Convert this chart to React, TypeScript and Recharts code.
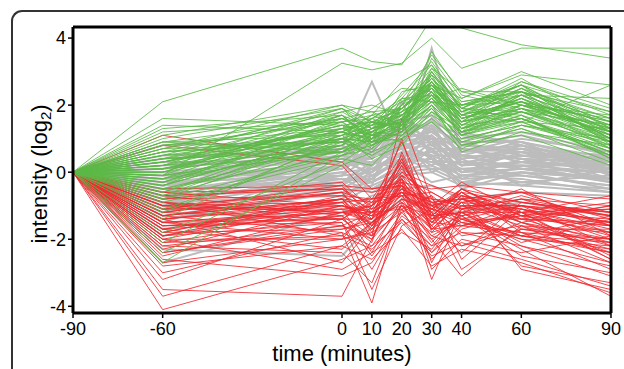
import React from "react"
import { LineChart, Line, XAxis, YAxis, Label, ReferenceLine } from "recharts"

// sampling times (minutes)
const times = [-90, -60, 0, 10, 20, 30, 40, 60, 90]
const xTicks = [-90, -60, 0, 10, 20, 30, 40, 60, 90]
const yTicks = [-4, -2, 0, 2, 4]

// up-regulated profiles (log2 intensity at each time)
const greenSeries = [
  [0, 2.1, 3.7, 3.3, 3.2, 4.6, 4.3, 3.8, 3.4],
  [0, -0.1, 3.25, 3.05, 3.25, 4.0, 3.1, 3.7, 3.7],
  [0, 1.6, 1.4, 1.2, 1.6, 2.9, 2.0, 2.4, 1.5],
  [0, 1.4, 1.2, 1.5, 1.2, 3.4, 2.2, 2.9, 2.6],
  [0, 1.3, 1.7, 1.0, 2.4, 2.6, 1.8, 2.5, 1.2],
  [0, 1.2, 1.5, 1.6, 1.8, 3.0, 1.6, 2.2, 1.0],
  [0, 1.0, 1.9, 1.3, 1.5, 2.4, 1.4, 2.0, 1.3],
  [0, 0.9, 1.1, 1.4, 2.0, 2.8, 1.9, 2.6, 0.8],
  [0, 0.8, 1.3, 0.9, 1.7, 2.2, 1.5, 1.8, 0.9],
  [0, 0.7, 1.6, 1.8, 1.4, 3.1, 2.4, 2.0, 1.7],
  [0, 0.6, 0.9, 1.2, 1.1, 2.0, 1.2, 1.6, 0.6],
  [0, 0.5, 1.2, 1.0, 1.9, 2.5, 1.7, 2.3, 1.4],
  [0, 0.4, 0.8, 1.5, 1.3, 2.7, 1.3, 1.9, 0.7],
  [0, 0.3, 1.4, 0.7, 2.2, 2.3, 2.0, 2.1, 1.1],
  [0, 0.2, 0.7, 1.1, 0.9, 1.8, 1.1, 1.5, 0.5],
  [0, 0.1, 1.0, 1.3, 1.6, 2.6, 1.5, 2.7, 1.9],
  [0, 0.0, 1.5, 0.8, 1.2, 2.1, 1.8, 1.7, 0.4],
  [0, -0.1, 0.6, 1.0, 1.5, 1.9, 1.0, 1.4, 1.0],
  [0, -0.2, 1.2, 1.7, 2.7, 3.2, 2.1, 2.4, 1.6],
  [0, -0.3, 0.9, 0.5, 1.0, 1.6, 0.9, 1.3, 0.3],
  [0, -0.4, 1.1, 1.4, 1.8, 2.4, 1.6, 2.0, 1.2],
  [0, -0.5, 0.5, 0.8, 1.3, 2.0, 0.6, 1.2, 0.8],
  [0, -0.6, 1.3, 1.1, 1.4, 2.9, 1.4, 2.2, 1.3],
  [0, -0.7, 0.8, 1.6, 2.1, 2.5, 1.9, 1.6, 0.6],
  [0, -0.9, 0.4, 0.2, 1.1, 1.7, 1.2, 1.5, 2.6],
  [0, -1.1, 0.7, 1.2, 1.6, 2.2, 1.3, 1.8, 1.0],
  [0, -1.4, 1.0, 0.6, 1.5, 3.6, 2.3, 1.9, 1.4],
  [0, -1.8, 0.3, 0.9, 1.2, 1.9, 0.8, 1.1, 0.2],
  [0, -2.1, 0.6, 1.3, 1.7, 2.3, 1.5, 2.5, 1.1],
  [0, -2.4, 0.2, 0.6, 1.0, 1.5, 0.7, 1.4, 0.9],
  [0, -2.7, 0.5, 1.0, 1.9, 2.7, 1.7, 2.1, 1.5],
  [0, 0.6, 1.8, 2.0, 1.7, 2.6, 2.2, 3.0, 2.0],
  [0, 0.3, 1.6, 1.4, 2.3, 3.3, 2.0, 2.6, 1.8],
  [0, 1.1, 2.0, 1.5, 1.9, 2.8, 1.8, 2.3, 2.2],
  [0, 0.9, 0.6, 1.1, 1.4, 2.1, 1.1, 1.7, 0.4],
  [0, -0.2, 1.7, 0.9, 1.3, 3.0, 1.9, 2.8, 1.3],
  [0, 0.4, 1.3, 1.9, 2.5, 2.4, 1.6, 2.1, 0.7],
  [0, -0.8, 1.1, 0.4, 0.8, 1.8, 1.3, 1.6, 0.5],
  [0, 0.7, 0.9, 1.3, 1.5, 2.2, 2.5, 2.0, 1.6],
  [0, 0.1, 1.4, 1.1, 2.0, 3.5, 2.4, 2.4, 1.0],
  [0, 0.5, 1.9, 1.1, 1.8, 2.4, 1.3, 2.3, 1.0],
  [0, 0.2, 1.0, 1.6, 1.2, 2.6, 1.7, 1.5, 1.3],
  [0, -0.3, 1.3, 1.5, 1.9, 2.8, 1.6, 2.2, 1.2],
  [0, 0.6, 1.0, 0.9, 1.3, 2.3, 1.2, 1.9, 0.9],
  [0, 0.0, 1.7, 0.9, 2.0, 2.5, 1.2, 2.4, 0.9],
  [0, -0.5, 0.8, 1.2, 1.7, 2.7, 1.5, 2.1, 1.1],
  [0, 0.3, 1.1, 1.7, 1.4, 3.0, 1.9, 1.8, 1.4],
  [0, 0.8, 1.5, 1.0, 1.4, 2.2, 1.3, 1.8, 0.8],
  [0, -0.1, 1.8, 1.3, 2.2, 2.1, 2.0, 2.6, 1.2],
  [0, 0.4, 0.6, 0.8, 1.2, 2.0, 0.9, 1.5, 0.6],
  [0, 0.1, 1.2, 1.6, 2.2, 3.2, 1.8, 2.6, 1.3],
  [0, -0.6, 1.0, 0.9, 1.0, 1.9, 1.0, 1.4, 0.7],
  [0, 0.7, 2.0, 1.8, 1.9, 2.6, 1.6, 2.1, 1.5],
  [0, -0.2, 0.7, 1.0, 1.6, 2.5, 1.4, 2.3, 1.0],
  [0, 0.2, 1.4, 1.5, 1.4, 2.1, 1.2, 1.7, 0.9],
  [0, -0.4, 1.6, 1.2, 2.1, 2.9, 2.1, 2.4, 1.8],
  [0, 0.5, 0.9, 1.4, 1.7, 2.4, 1.5, 1.9, 1.2],
  [0, -0.8, 0.5, 0.7, 1.4, 2.2, 1.1, 1.6, 0.8],
  [0, 0.9, 1.6, 1.1, 1.5, 2.7, 1.7, 2.5, 1.6],
  [0, 0.0, 1.0, 1.3, 1.8, 2.3, 1.3, 2.0, 1.0],
  [0, -1.2, 0.9, 1.1, 1.3, 2.0, 1.2, 1.8, 1.1],
  [0, 0.3, 1.3, 1.4, 1.5, 2.8, 2.0, 2.3, 1.4],
  [0, -0.3, 1.5, 1.7, 1.9, 2.6, 1.6, 2.2, 0.9],
  [0, 0.6, 1.2, 1.0, 1.6, 2.1, 1.4, 1.6, 0.7],
  [0, -0.1, 0.8, 1.5, 1.3, 2.4, 1.1, 2.0, 1.3],
  [0, 0.4, 1.7, 1.3, 2.0, 3.1, 1.9, 2.7, 1.7],
  [0, -0.7, 1.2, 0.8, 1.5, 2.3, 1.5, 1.9, 1.2],
  [0, 0.1, 0.6, 1.1, 1.1, 1.8, 0.8, 1.3, 0.5],
  [0, 0.2, 1.9, 1.5, 1.7, 2.5, 1.7, 2.1, 1.1],
  [0, -0.4, 1.1, 1.2, 1.9, 2.7, 1.8, 2.4, 1.5],
]

// down-regulated profiles
const redSeries = [
  [0, -4.1, -2.6, -2.2, -1.5, -2.4, -1.6, -1.8, -2.9],
  [0, -3.5, -3.7, -2.0, -1.0, -1.9, -2.2, -1.5, -2.4],
  [0, -3.0, -1.8, -3.9, -0.9, -1.7, -1.3, -2.3, -3.7],
  [0, -2.8, -2.2, -1.5, -0.4, -3.2, -1.1, -1.9, -2.1],
  [0, -2.6, -3.1, -2.7, -1.3, -2.0, -3.1, -1.6, -1.8],
  [0, -2.4, -1.6, -1.2, -0.6, -1.4, -0.9, -2.8, -3.3],
  [0, -2.2, -2.4, -3.3, -1.1, -2.6, -1.7, -1.2, -2.6],
  [0, -2.1, -1.3, -1.9, 1.6, -0.8, -1.0, -1.4, -1.5],
  [0, -2.0, -2.0, -1.0, -0.2, -1.6, -2.4, -0.9, -1.2],
  [0, -1.9, -1.1, -2.4, -0.8, -1.2, -1.5, -2.0, -2.2],
  [0, -1.8, -1.7, -1.4, 1.0, -1.8, -0.8, -1.1, -1.7],
  [0, -1.7, -0.9, -1.7, -0.5, -1.0, -1.9, -1.6, -2.7],
  [0, -1.6, -1.5, -2.9, -1.4, -2.2, -1.2, -0.7, -1.4],
  [0, -1.5, -1.2, -1.1, 0.4, -1.5, -0.7, -1.3, -1.1],
  [0, -1.4, -2.7, -1.6, -0.3, -2.9, -2.0, -2.4, -1.9],
  [0, -1.3, -0.8, -0.9, -0.7, -1.1, -1.4, -1.0, -1.6],
  [0, -1.2, -1.4, -2.1, 0.6, -1.3, -0.6, -1.8, -2.0],
  [0, -1.1, -1.0, -1.3, -1.0, -2.1, -1.1, -0.8, -1.3],
  [0, -1.0, -0.6, -1.8, -0.1, -0.9, -1.6, -1.2, -2.5],
  [0, -0.9, -1.9, -1.2, 0.2, -1.7, -0.9, -1.5, -1.0],
  [0, -0.8, -0.7, -0.8, -0.6, -1.3, -1.2, -2.1, -1.4],
  [0, -0.7, -1.3, -2.5, -1.2, -0.7, -2.6, -1.1, -1.8],
  [0, -0.6, -0.5, -1.0, 0.9, -1.0, -0.8, -0.6, -1.2],
  [0, -1.7, -2.3, -1.5, -0.9, -2.4, -1.3, -2.5, -3.0],
  [0, -2.3, -1.0, -1.3, -0.4, -1.5, -0.5, -1.3, -1.6],
  [0, -1.9, -1.5, -3.5, -1.6, -1.1, -1.8, -1.9, -2.3],
  [0, -1.5, -2.0, -1.7, -0.2, -2.7, -1.0, -1.0, -1.5],
  [0, -3.2, -1.4, -0.9, 0.3, -1.2, -2.2, -1.7, -2.0],
  [0, -1.3, -1.8, -2.2, -1.0, -1.6, -0.7, -2.9, -3.5],
  [0, 1.1, 0.3, -0.5, -0.4, -0.9, -1.1, -0.5, -1.9],
  [0, 0.8, 0.2, -0.8, 0.5, -1.4, -0.6, -0.9, -1.3],
  [0, -2.5, -1.2, -1.4, -0.7, -1.9, -1.4, -1.4, -2.1],
  [0, -1.0, -1.6, -2.0, -0.3, -1.2, -2.9, -1.7, -1.7],
  [0, -1.4, -0.9, -1.6, 0.0, -0.8, -1.5, -1.3, -2.6],
  [0, -2.0, -2.9, -2.4, -1.8, -2.3, -1.2, -2.2, -3.1],
  [0, -1.2, -0.6, -1.6, -0.4, -1.3, -0.5, -1.4, -1.0],
  [0, -1.5, -1.4, -0.8, -0.7, -1.7, -0.9, -1.1, -2.0],
  [0, -0.9, -1.2, -1.0, 0.3, -1.1, -0.5, -1.3, -0.9],
  [0, -1.8, -0.8, -1.9, -0.6, -1.5, -1.6, -1.0, -2.2],
  [0, -1.1, -0.4, -1.4, -0.1, -0.6, -1.1, -0.8, -1.6],
  [0, -2.0, -1.0, -1.2, -1.1, -0.7, -1.4, -1.9, -1.3],
  [0, -1.3, -0.8, -1.6, -0.8, -1.1, -1.3, -1.0, -1.5],
  [0, -0.7, -0.5, -1.2, 0.1, -1.0, -0.3, -1.2, -0.7],
  [0, -1.6, -1.2, -1.2, -0.6, -1.6, -0.8, -1.5, -2.2],
  [0, -2.2, -1.6, -1.9, -1.1, -1.8, -1.5, -1.8, -2.4],
  [0, -1.0, -0.9, -0.8, -0.2, -1.0, -0.7, -1.2, -1.4],
  [0, -1.4, -1.0, -1.4, -0.5, -1.4, -1.0, -1.0, -1.2],
  [0, -0.8, -0.3, -1.1, -0.6, -0.8, -0.9, -0.6, -1.6],
  [0, -1.7, -1.3, -1.0, -0.3, -1.1, -0.6, -1.7, -2.1],
  [0, -1.9, -0.8, -1.7, -1.0, -1.3, -1.2, -1.2, -1.9],
  [0, -1.1, -1.1, -1.3, 0.2, -0.9, -0.8, -1.4, -1.6],
  [0, -2.4, -1.7, -1.5, -0.8, -2.0, -1.4, -2.0, -2.7],
  [0, -1.2, -0.5, -0.6, -0.4, -1.2, -0.5, -0.9, -1.2],
  [0, -0.6, -1.0, -1.2, -0.7, -0.6, -1.1, -1.1, -1.5],
  [0, -1.6, -1.4, -2.0, -0.2, -1.7, -1.6, -1.3, -1.8],
  [0, -2.7, -2.0, -1.8, -1.2, -2.2, -1.8, -2.2, -2.8],
  [0, -1.3, -0.6, -0.9, 0.0, -0.4, -0.7, -1.0, -1.3],
  [0, -1.0, -1.2, -1.5, -0.9, -1.5, -1.0, -1.6, -2.3],
  [0, -1.8, -0.7, -1.1, -0.5, -1.0, -1.3, -0.8, -1.0],
  [0, -0.9, -1.4, -1.4, 0.4, -1.3, -0.6, -1.5, -2.0],
  [0, -2.1, -1.9, -2.3, -1.4, -2.5, -2.1, -2.6, -3.4],
  [0, -1.4, -0.8, -1.2, -0.6, -0.9, -0.8, -1.2, -1.1],
  [0, -0.5, -0.4, -0.5, -0.3, -0.5, -0.4, -0.6, -0.8],
  [0, -1.5, -1.1, -1.0, -0.1, -1.4, -1.2, -1.9, -2.4],
  [0, -3.7, -2.2, -2.6, -1.7, -2.8, -2.3, -2.7, -3.6],
]

// unchanged profiles
const graySeries = [
  [0, 0.8, 0.9, 0.6, 1.5, 1.7, 0.8, 1.1, 0.5],
  [0, 0.5, 0.6, 1.0, 1.2, 1.5, 1.1, 0.9, 0.3],
  [0, 0.3, 0.3, 0.4, 1.6, 1.2, 0.6, 1.0, 0.6],
  [0, 0.1, 0.8, 0.2, 0.9, 1.6, 0.4, 0.7, 0.1],
  [0, -0.1, 0.1, 0.8, 1.3, 0.9, 0.9, 0.5, 0.4],
  [0, -0.2, 0.5, 0.1, 0.6, 1.4, 0.2, 0.8, -0.1],
  [0, -0.3, -0.1, 0.5, 1.1, 0.7, 0.7, 0.3, 0.2],
  [0, -0.4, 0.4, -0.1, 0.4, 1.1, 0.0, 0.6, -0.2],
  [0, -0.5, -0.3, 0.3, 0.8, 0.5, 0.5, 0.1, 0.0],
  [0, -0.6, 0.2, -0.3, 0.2, 0.9, -0.2, 0.4, -0.3],
  [0, -0.7, -0.5, 0.0, 0.6, 0.3, 0.3, -0.1, -0.4],
  [0, -0.8, 0.0, -0.5, 0.0, 0.7, -0.4, 0.2, 0.2],
  [0, -0.9, -0.7, -0.2, 0.4, 0.1, 0.1, -0.3, -0.1],
  [0, -1.0, -0.2, -0.6, -0.2, 0.5, -0.5, 0.0, -0.5],
  [0, -1.1, -0.4, 0.2, 1.0, 0.0, 0.4, -0.4, 0.1],
  [0, -1.2, 0.7, 2.7, 0.7, 1.3, 0.2, 0.5, 0.3],
  [0, -1.3, -0.6, -0.4, 2.1, 0.4, -0.3, 0.0, -0.2],
  [0, -1.5, 0.2, 0.7, 0.5, 3.7, 0.6, 0.7, 0.0],
  [0, -0.2, 0.6, 0.9, 1.4, 1.0, 1.0, 1.2, 0.6],
  [0, 0.2, 0.4, 0.3, 0.1, 1.3, 0.3, 0.2, -0.3],
  [0, -0.5, 1.0, 0.5, 0.7, 0.2, 0.8, 0.6, 0.4],
  [0, -0.9, -0.1, 1.2, 1.7, 0.8, 1.2, 0.8, 0.2],
  [0, -1.7, -0.8, -0.1, 0.3, -0.3, -0.1, -0.2, -0.6],
  [0, -2.7, -1.2, -0.7, -0.5, -0.4, -0.8, -0.6, -0.7],
  [0, -0.4, 0.3, 0.0, 1.2, 1.0, 0.0, 0.3, 0.5],
  [0, -0.7, 0.1, 0.6, 0.3, 1.6, 0.5, 0.9, -0.1],
  [0, 0.0, -0.2, -0.2, 0.9, 0.4, -0.1, 0.1, 0.0],
  [0, -1.0, 0.5, 0.4, 1.5, 0.6, 0.7, 0.4, 0.3],
  [0, -2.3, -2.5, -1.5, -0.8, -1.0, -1.2, -0.9, -1.3],
  [0, -0.3, 0.2, 0.3, 0.7, 0.8, 0.3, 0.5, 0.1],
  [0, -0.6, 0.0, 0.1, 0.5, 0.6, 0.2, 0.3, -0.2],
  [0, -0.1, 0.4, 0.6, 1.0, 1.2, 0.6, 0.8, 0.3],
  [0, -0.8, -0.3, -0.1, 0.3, 0.4, 0.0, 0.1, -0.3],
  [0, 0.1, 0.6, 0.4, 1.3, 1.4, 0.8, 0.7, 0.5],
  [0, -1.1, -0.5, -0.3, 0.1, 0.2, -0.2, -0.1, -0.4],
  [0, -0.4, 0.1, 0.5, 0.9, 1.1, 0.4, 0.6, 0.2],
  [0, -0.9, -0.1, 0.0, 0.6, 0.5, 0.1, 0.2, 0.0],
  [0, 0.4, 0.7, 0.7, 1.4, 1.3, 0.9, 0.9, 0.4],
  [0, -1.4, -0.6, -0.5, -0.1, 0.0, -0.4, -0.3, -0.5],
  [0, -0.2, 0.3, 0.2, 0.8, 1.0, 0.5, 0.4, 0.0],
  [0, -0.7, -0.4, 0.1, 0.4, 0.3, -0.1, 0.0, -0.2],
  [0, -1.9, -0.9, -0.4, 0.0, 0.1, -0.3, -0.4, -0.6],
  [0, 0.0, 0.5, 0.9, 1.1, 1.5, 0.7, 0.6, 0.2],
  [0, -0.5, -0.2, -0.3, 0.2, 0.7, 0.0, 0.3, 0.1],
  [0, -1.2, -0.3, 0.3, 0.8, 0.9, 0.3, 0.1, -0.2],
]

const GREEN = "#5cb947"
const RED = "#ee2a31"
const GRAY = "#bcbcbc"
const FONT = "Liberation Sans, Arial, sans-serif"
const Y_DOMAIN: [number, number] = [-4.2, 4.33]

const data = times.map((t, i) => {
  const row: Record<string, number> = { t }
  graySeries.forEach((s, k) => (row[`y${k}`] = s[i]))
  redSeries.forEach((s, k) => (row[`r${k}`] = s[i]))
  greenSeries.forEach((s, k) => (row[`g${k}`] = s[i]))
  return row
})

const tickStyle = { fill: "#000", fontSize: 18, fontFamily: FONT }

export default function App() {
  return (
    <div style={{ position: "absolute", left: 0, top: 0, width: 624, height: 369, background: "#fff", overflow: "hidden" }}>
      <LineChart
        width={624}
        height={369}
        data={data}
        margin={{ top: 27, right: 13, bottom: 0, left: 0 }}
      >
        <XAxis
          dataKey="t"
          type="number"
          domain={[-90, 90]}
          ticks={xTicks}
          interval={0}
          height={56}
          tickSize={5}
          tickMargin={4}
          tick={tickStyle}
          axisLine={{ stroke: "#000", strokeWidth: 3 }}
          tickLine={{ stroke: "#000", strokeWidth: 1.5 }}
        >
          <Label
            content={() => (
              <text x={342} y={361} textAnchor="middle" fontSize={22} fontFamily={FONT} fill="#000">
                time (minutes)
              </text>
            )}
          />
        </XAxis>
        <YAxis
          type="number"
          domain={Y_DOMAIN}
          allowDataOverflow
          ticks={yTicks}
          interval={0}
          width={73}
          tickSize={5}
          tickMargin={2}
          tick={tickStyle}
          axisLine={{ stroke: "#000", strokeWidth: 3 }}
          tickLine={{ stroke: "#000", strokeWidth: 1.5 }}
        >
          <Label
            content={() => (
              <text
                x={47}
                y={174}
                textAnchor="middle"
                fontSize={22}
                fontFamily={FONT}
                fill="#000"
                transform="rotate(-90 47 174)"
              >
                intensity (log<tspan fontSize={15} dy={4}>2</tspan>
                <tspan dy={-4}>)</tspan>
              </text>
            )}
          />
        </YAxis>
        {graySeries.map((_, k) => (
          <Line
            key={`y${k}`}
            dataKey={`y${k}`}
            stroke={GRAY}
            strokeWidth={2}
            dot={false}
            activeDot={false}
            isAnimationActive={false}
          />
        ))}
        {redSeries.map((_, k) => (
          <Line
            key={`r${k}`}
            dataKey={`r${k}`}
            stroke={RED}
            strokeOpacity={0.85}
            strokeWidth={1}
            dot={false}
            activeDot={false}
            isAnimationActive={false}
          />
        ))}
        {greenSeries.map((_, k) => (
          <Line
            key={`g${k}`}
            dataKey={`g${k}`}
            stroke={GREEN}
            strokeOpacity={0.85}
            strokeWidth={1}
            dot={false}
            activeDot={false}
            isAnimationActive={false}
          />
        ))}
        <ReferenceLine y={Y_DOMAIN[1]} stroke="#000" strokeWidth={3} ifOverflow="visible" />
        <ReferenceLine x={90} stroke="#000" strokeWidth={3} ifOverflow="visible" />
      </LineChart>
      <div
        style={{
          position: "absolute",
          left: 11,
          top: 10,
          width: 640,
          height: 400,
          borderTop: "2px solid #333",
          borderLeft: "2px solid #333",
          borderTopLeftRadius: 11,
          pointerEvents: "none",
        }}
      />
    </div>
  )
}
